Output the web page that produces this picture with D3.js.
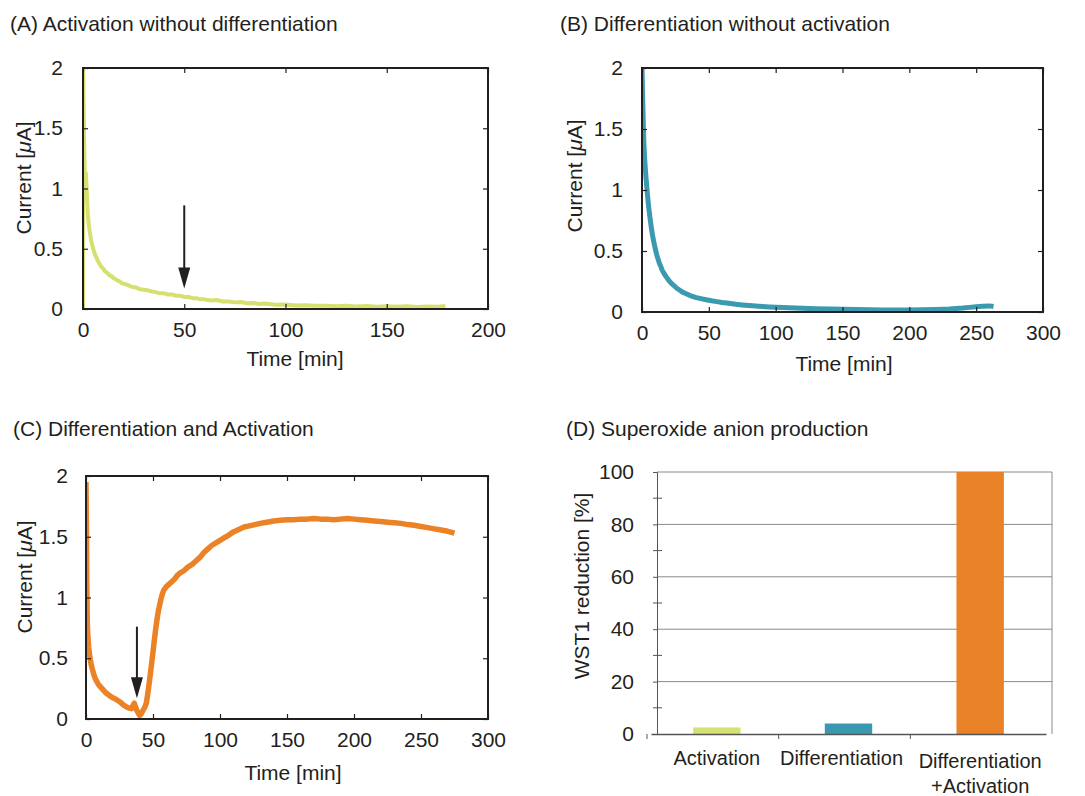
<!DOCTYPE html>
<html>
<head>
<meta charset="utf-8">
<script src="https://cdn.jsdelivr.net/npm/d3@7"></script>
<style>
  body { margin: 0; background: #fff; }
  svg { font-family: "Liberation Sans", Arial, Helvetica, sans-serif; }
  text { fill: #231f20; }
</style>
</head>
<body>
<div id="chart-area"></div>
<script>
// ---- data ----
// (A) activation without differentiation: [time min, current uA]
var seriesA = [[0,0],[0.05,2.0],[0.5,1.45],[1.0,0.98],[1.4,1.13],[1.8,1.0],[2.3,0.8],[3,0.68],[4,0.57],[5,0.5],
  [6,0.45],[7,0.41],[8,0.38],[9,0.35],[10,0.335],[11,0.31],[12,0.3],[13,0.28],[14,0.275],[15,0.255],
  [16,0.25],[17,0.235],[18,0.23],[19,0.215],[20,0.21],[22,0.2],[24,0.185],[26,0.18],[28,0.165],[30,0.16],
  [32,0.155],[34,0.145],[36,0.14],[38,0.13],[40,0.13],[42,0.12],[44,0.12],[46,0.11],[48,0.11],[50,0.1],
  [52,0.1],[54,0.09],[56,0.09],[58,0.08],[60,0.08],[63,0.07],[66,0.075],[69,0.062],[72,0.062],[75,0.055],
  [78,0.058],[81,0.048],[84,0.05],[87,0.042],[90,0.045],[95,0.036],[100,0.038],[105,0.03],[110,0.032],[115,0.026],
  [120,0.028],[125,0.022],[130,0.026],[135,0.02],[140,0.024],[145,0.018],[150,0.022],[155,0.018],[160,0.022],[165,0.017],
  [170,0.021],[175,0.018],[179,0.024]];

// (B) differentiation without activation
var seriesB = [[0,2.0],[0.5,1.75],[1,1.52],[1.5,1.36],[2,1.25],[3,1.1],[4,0.97],[5,0.86],[6,0.77],[7,0.69],
  [8,0.62],[9,0.565],[10,0.515],[11,0.47],[12,0.435],[13,0.4],[14,0.375],[15,0.345],[16,0.325],[18,0.29],
  [20,0.26],[22,0.235],[24,0.215],[26,0.195],[28,0.18],[30,0.165],[33,0.15],[36,0.135],[40,0.12],[44,0.11],
  [48,0.1],[52,0.092],[56,0.085],[60,0.078],[65,0.071],[70,0.064],[75,0.058],[80,0.053],[85,0.049],[90,0.045],
  [95,0.041],[100,0.038],[110,0.034],[120,0.03],[130,0.027],[140,0.025],[150,0.022],[160,0.02],[170,0.018],[180,0.017],
  [190,0.016],[200,0.017],[210,0.019],[220,0.021],[230,0.025],[240,0.032],[245,0.038],[250,0.043],[255,0.048],[260,0.05],
  [263,0.045]];

// (C) differentiation and activation
var seriesC = [[0,1.95],[0.3,1.6],[0.6,1.1],[1,0.78],[1.5,0.66],[2,0.59],[3,0.5],[4,0.44],[5,0.4],[6,0.36],
  [7,0.33],[8,0.31],[9,0.29],[10,0.275],[12,0.25],[14,0.225],[16,0.205],[18,0.19],[20,0.175],[22,0.165],
  [24,0.15],[26,0.135],[28,0.115],[30,0.1],[32,0.09],[34,0.085],[35,0.11],[36,0.13],[37,0.1],[38,0.07],
  [39,0.05],[40,0.03],[41,0.04],[42,0.06],[43,0.08],[44,0.1],[45,0.13],[46,0.2],[47,0.28],[48,0.37],
  [49,0.46],[50,0.55],[51,0.65],[52,0.74],[53,0.82],[54,0.89],[55,0.94],[56,0.99],[57,1.03],[58,1.06],
  [60,1.09],[62,1.11],[64,1.13],[66,1.15],[68,1.18],[70,1.2],[73,1.22],[76,1.25],[79,1.27],[82,1.3],
  [85,1.33],[88,1.37],[91,1.4],[94,1.43],[97,1.45],[100,1.47],[103,1.49],[106,1.51],[110,1.54],[114,1.56],
  [118,1.58],[122,1.59],[126,1.6],[130,1.61],[135,1.62],[140,1.63],[145,1.635],[150,1.64],[155,1.64],[160,1.645],
  [165,1.645],[170,1.65],[175,1.645],[180,1.645],[185,1.64],[190,1.645],[195,1.65],[200,1.645],[205,1.64],[210,1.635],
  [215,1.63],[220,1.625],[225,1.62],[230,1.615],[235,1.61],[240,1.6],[245,1.595],[250,1.585],[255,1.575],[260,1.565],
  [265,1.555],[270,1.545],[275,1.53]];

// (D) superoxide anion production
var categories = ["Activation", "Differentiation", "Differentiation\n+Activation"];
var wst1 = [2.5, 4, 100];

var yTicksCurrent = [0, 0.5, 1, 1.5, 2];
var xTicksA = [0, 50, 100, 150, 200];
var xTicks300 = [0, 50, 100, 150, 200, 250, 300];
var yTicksD = [0, 20, 40, 60, 80, 100];

// arrows: [time, from current, to current]
var arrowA = [50, 0.86, 0.17];
var arrowC = [38, 0.76, 0.17];

var svg = d3.select("#chart-area").append("svg")
    .attr("width", 1085)
    .attr("height", 796);

var defs = svg.append("defs");

function linePanel(p) {
    var x = d3.scaleLinear().domain([0, p.xMax]).range([p.left, p.right]);
    var y = d3.scaleLinear().domain([0, 2]).range([p.bottom, p.top]);

    var g = svg.append("g");

    // title
    g.append("text")
        .attr("x", p.titleX).attr("y", p.titleY)
        .attr("font-size", "21px")
        .text(p.title);

    // clipped curve
    defs.append("clipPath").attr("id", "clip" + p.id)
        .append("rect")
        .attr("x", p.left).attr("y", p.top)
        .attr("width", p.right - p.left).attr("height", p.bottom - p.top);

    g.append("path")
        .datum(p.data)
        .attr("clip-path", "url(#clip" + p.id + ")")
        .attr("fill", "none")
        .attr("stroke", p.color)
        .attr("stroke-width", p.lw)
        .attr("stroke-linejoin", "round")
        .attr("d", d3.line().x(function(d) { return x(d[0]); }).y(function(d) { return y(d[1]); }));

    // inward ticks on all four sides
    g.append("g")
        .attr("transform", "translate(0," + p.bottom + ")")
        .call(d3.axisBottom(x).tickValues(p.xTicks).tickSize(-5).tickPadding(13))
        .call(styleAxis);
    g.append("g")
        .attr("transform", "translate(0," + p.top + ")")
        .call(d3.axisTop(x).tickValues(p.xTicks).tickSize(-5).tickFormat(""))
        .call(styleAxis);
    g.append("g")
        .attr("transform", "translate(" + p.left + ",0)")
        .call(d3.axisLeft(y).tickValues(yTicksCurrent).tickSize(-5).tickPadding(p.yPad)
            .tickFormat(function(d) { return String(d); }))
        .call(styleAxis);
    g.append("g")
        .attr("transform", "translate(" + p.right + ",0)")
        .call(d3.axisRight(y).tickValues(yTicksCurrent).tickSize(-5).tickFormat(""))
        .call(styleAxis);

    // frame
    g.append("rect")
        .attr("x", p.left).attr("y", p.top)
        .attr("width", p.right - p.left).attr("height", p.bottom - p.top)
        .attr("fill", "none")
        .attr("stroke", "#231f20")
        .attr("stroke-width", 2);

    // axis titles
    g.append("text")
        .attr("x", p.xLabel[0]).attr("y", p.xLabel[1])
        .attr("text-anchor", "middle")
        .attr("font-size", "21px")
        .text("Time [min]");

    var yl = g.append("text")
        .attr("transform", "translate(" + p.yLabel[0] + "," + p.yLabel[1] + ") rotate(-90)")
        .attr("text-anchor", "middle")
        .attr("font-size", "21px");
    yl.append("tspan").text("Current [");
    yl.append("tspan").attr("font-style", "italic").text("\u03bc");
    yl.append("tspan").text("A]");

    if (p.arrow) {
        var ax = x(p.arrow[0]), y0 = y(p.arrow[1]), tip = y(p.arrow[2]);
        g.append("line")
            .attr("x1", ax).attr("x2", ax)
            .attr("y1", y0).attr("y2", tip - 18)
            .attr("stroke", "#231f20")
            .attr("stroke-width", 2);
        g.append("path")
            .attr("d", "M" + (ax - 6) + "," + (tip - 21) + "L" + (ax + 6) + "," + (tip - 21) + "L" + ax + "," + tip + "Z")
            .attr("fill", "#231f20");
    }
}

function styleAxis(sel) {
    sel.select(".domain").remove();
    sel.selectAll(".tick line").attr("stroke", "#231f20").attr("stroke-width", 1.2);
    sel.selectAll(".tick text")
        .attr("font-size", "21px")
        .attr("font-family", "Liberation Sans, Arial, sans-serif")
        .attr("fill", "#231f20");
}

linePanel({ id: "A", data: seriesA, color: "#d5e06e", lw: 4, xMax: 200, xTicks: xTicksA,
    left: 83, right: 488, top: 68, bottom: 309, yPad: 20,
    title: "(A) Activation without differentiation", titleX: 10, titleY: 31,
    xLabel: [295, 366], yLabel: [31, 178], arrow: arrowA });

linePanel({ id: "B", data: seriesB, color: "#3a9ab0", lw: 5, xMax: 300, xTicks: xTicks300,
    left: 642, right: 1043, top: 68, bottom: 312, yPad: 19,
    title: "(B) Differentiation without activation", titleX: 560, titleY: 31,
    xLabel: [844, 371], yLabel: [582, 176] });

linePanel({ id: "C", data: seriesC, color: "#ec8226", lw: 5.5, xMax: 300, xTicks: xTicks300,
    left: 86, right: 488, top: 476, bottom: 719, yPad: 18,
    title: "(C) Differentiation and Activation", titleX: 13, titleY: 436,
    xLabel: [293, 780], yLabel: [32, 577], arrow: arrowC });

// ---- (D) bar chart ----
var dLeft = 657, dRight = 1052, dTop = 472, dBottom = 734;
var gD = svg.append("g");

gD.append("text")
    .attr("x", 566).attr("y", 436)
    .attr("font-size", "21px")
    .text("(D) Superoxide anion production");

var xD = d3.scaleBand().domain(categories).range([dLeft - 6, dRight - 6]).paddingInner(0.64).paddingOuter(0.32);
var yD = d3.scaleLinear().domain([0, 100]).range([dBottom, dTop]);
var barColors = d3.scaleOrdinal().domain(categories).range(["#d6e174", "#3a98b1", "#e98126"]);

// gridlines
gD.append("g").selectAll("line")
    .data(yTicksD.slice(1))
    .enter().append("line")
    .attr("x1", dLeft).attr("x2", dRight)
    .attr("y1", function(d) { return yD(d); })
    .attr("y2", function(d) { return yD(d); })
    .attr("stroke", "#8a8a8a")
    .attr("stroke-width", 1);

gD.append("line")
    .attr("x1", dRight).attr("x2", dRight)
    .attr("y1", dTop).attr("y2", dBottom)
    .attr("stroke", "#8a8a8a");

gD.selectAll("rect.bar")
    .data(wst1)
    .enter().append("rect")
    .attr("class", "bar")
    .attr("x", function(d, i) { return xD(categories[i]); })
    .attr("y", function(d) { return yD(d); })
    .attr("width", xD.bandwidth())
    .attr("height", function(d) { return dBottom - yD(d); })
    .attr("fill", function(d, i) { return barColors(categories[i]); });

var leftD = gD.append("g")
    .attr("transform", "translate(" + dLeft + ",0)")
    .call(d3.axisLeft(yD).tickValues(yTicksD).tickSize(4).tickPadding(19));
leftD.select(".domain").attr("stroke", "#555");
leftD.selectAll(".tick line").attr("stroke", "#555");
leftD.selectAll(".tick text").attr("font-size", "21px").attr("fill", "#231f20");

// minor ticks
gD.append("g").selectAll("line")
    .data(yTicksD.slice(0, -1))
    .enter().append("line")
    .attr("x1", dLeft - 4).attr("x2", dLeft + 5)
    .attr("y1", function(d) { return yD(d + 10); })
    .attr("y2", function(d) { return yD(d + 10); })
    .attr("stroke", "#555");

var bottomD = gD.append("g")
    .attr("transform", "translate(0," + dBottom + ")")
    .call(d3.axisBottom(xD).tickSize(0).tickFormat(""));
bottomD.select(".domain").attr("stroke", "#555").attr("stroke-width", 1.5);

// category boundary ticks
gD.append("g").selectAll("line")
    .data(categories)
    .enter().append("line")
    .attr("x1", function(d) { return xD(d) - xD.step() * xD.paddingInner() / 2 - 4; })
    .attr("x2", function(d) { return xD(d) - xD.step() * xD.paddingInner() / 2 - 4; })
    .attr("y1", dBottom).attr("y2", dBottom + 5)
    .attr("stroke", "#555");

// category labels
gD.append("g").selectAll("text")
    .data(categories)
    .enter().append("text")
    .attr("text-anchor", "middle")
    .attr("font-size", "20px")
    .attr("x", function(d) { return xD(d) + xD.bandwidth() / 2; })
    .attr("y", function(d) { return d.indexOf("\n") >= 0 ? 768 : 765; })
    .each(function(d, i) {
        var lines = d.split("\n");
        var t = d3.select(this);
        var cx = xD(d) + xD.bandwidth() / 2 + (i === 1 ? -7 : 0);
        lines.forEach(function(l, j) {
            t.append("tspan")
                .attr("x", cx)
                .attr("dy", j === 0 ? 0 : 25)
                .text(l);
        });
    });

gD.append("text")
    .attr("transform", "translate(589,586) rotate(-90)")
    .attr("text-anchor", "middle")
    .attr("font-size", "21px")
    .text("WST1 reduction [%]");
</script>
</body>
</html>
